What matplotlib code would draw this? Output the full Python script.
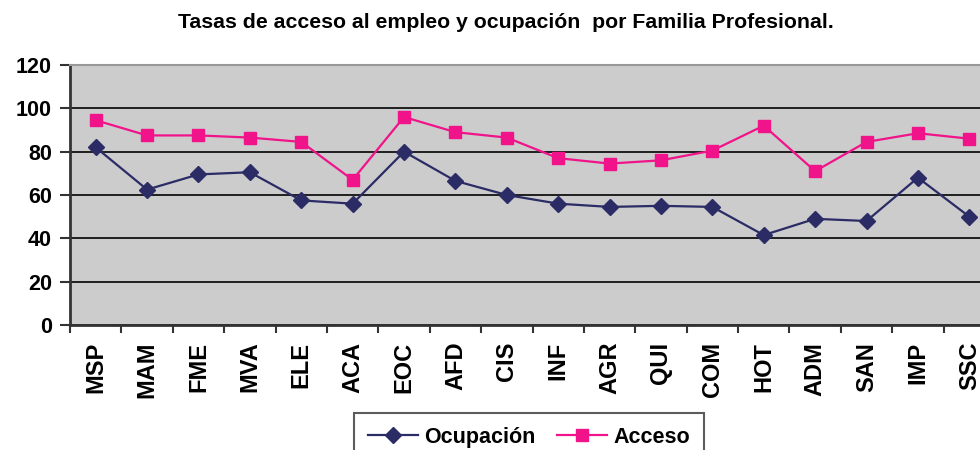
import matplotlib
matplotlib.use("Agg")
import matplotlib.pyplot as plt
from matplotlib.ticker import FixedLocator

plt.rcParams['font.family'] = ['Liberation Sans', 'DejaVu Sans']

categories = ["MSP", "MAM", "FME", "MVA", "ELE", "ACA", "EOC", "AFD", "CIS",
              "INF", "AGR", "QUI", "COM", "HOT", "ADM", "SAN", "IMP", "SSC"]
ocupacion = [82, 62.5, 69.5, 70.5, 57.5, 56, 80, 66.5, 60,
             56, 54.5, 55, 54.5, 41.5, 49, 48, 68, 50]
acceso = [94.5, 87.5, 87.5, 86.5, 84.5, 67, 96, 89, 86.5,
          77, 74.5, 76, 80.5, 92, 71, 84.5, 88.5, 86]
yticks = [0, 20, 40, 60, 80, 100, 120]
title = "Tasas de acceso al empleo y ocupación  por Familia Profesional."

fig = plt.figure(figsize=(9.8, 4.5), dpi=100)
ax = fig.add_axes([70/980, 1-325/450, 925/980, 260/450])
ax.set_facecolor("#cccccc")

x = list(range(len(categories)))
l1, = ax.plot(x, ocupacion, color="#2b2b66", lw=1.6, marker="D", markersize=8,
              label="Ocupación")
l2, = ax.plot(x, acceso, color="#f0138a", lw=1.6, marker="s", markersize=8,
              label="Acceso")

ax.set_xlim(-0.5, len(categories) - 0.5)
ax.set_ylim(0, 120)
ax.set_yticks(yticks)
ax.set_yticklabels([str(v) for v in yticks], fontsize=15.5, fontweight="bold")
ax.set_xticks(x)
ax.set_xticklabels(categories, rotation=90, fontsize=17, fontweight="bold")
ax.xaxis.set_minor_locator(FixedLocator([i - 0.5 for i in range(len(categories) + 1)]))
ax.tick_params(axis="x", which="major", length=0, pad=12)
ax.tick_params(axis="x", which="minor", length=6, width=1.5, direction="out", color="#333333")
ax.tick_params(axis="y", length=7, width=1.5, direction="out", pad=6, color="#333333")

ax.grid(axis="y", color="#111111", lw=1.3)
ax.set_axisbelow(True)
for s in ["left", "bottom"]:
    ax.spines[s].set_color("#333333")
    ax.spines[s].set_linewidth(2)
ax.spines["top"].set_color("#999999")
ax.spines["top"].set_linewidth(1.5)
ax.spines["right"].set_visible(False)

fig.text(506/980, 1-23/450, title, ha="center", va="center", fontsize=15.3, fontweight="bold")

leg = fig.legend(handles=[l1, l2], loc="upper center", bbox_to_anchor=(529/980, 1-413/450),
                 ncol=2, frameon=True, fancybox=False, edgecolor="#333333",
                 prop={"size": 15.5, "weight": "bold"}, handlelength=2.3,
                 handletextpad=0.3, columnspacing=1.0, borderpad=0.65, borderaxespad=0)
leg.get_frame().set_linewidth(1.5)

fig.savefig("out.png", dpi=100)
